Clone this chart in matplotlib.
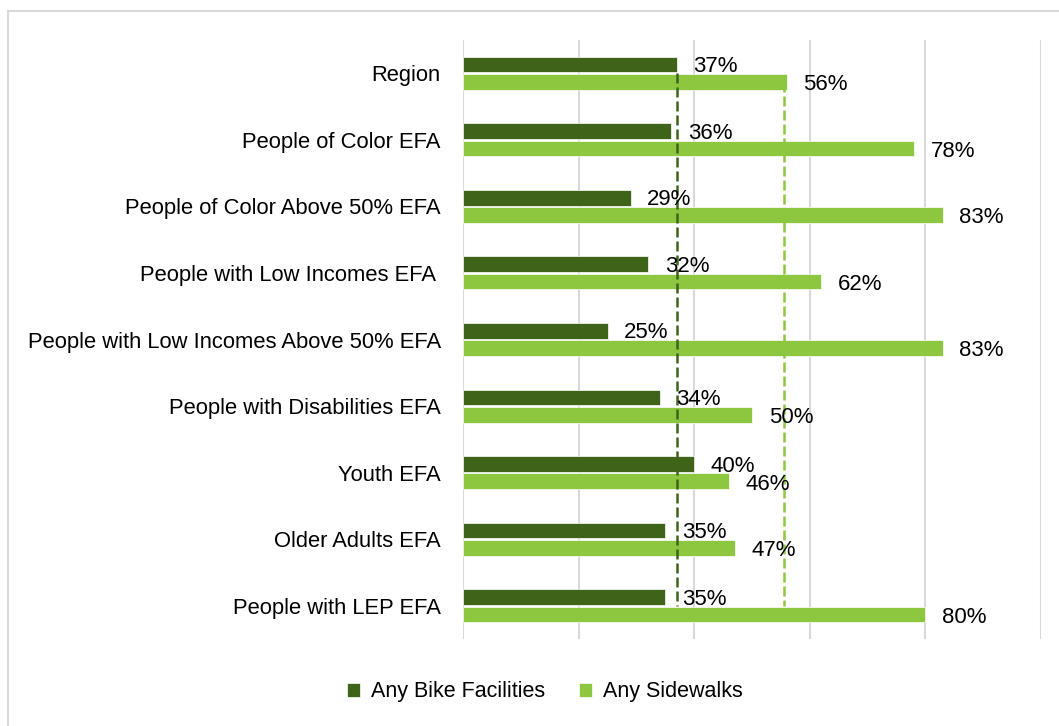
import matplotlib.pyplot as plt
import matplotlib.patches as patches
import numpy as np

plt.rcParams['font.family'] = ['Liberation Sans', 'DejaVu Sans']

categories = ['Region', 'People of Color EFA', 'People of Color Above 50% EFA',
              'People with Low Incomes EFA ', 'People with Low Incomes Above 50% EFA',
              'People with Disabilities EFA', 'Youth EFA', 'Older Adults EFA',
              'People with LEP EFA']
bike = [37, 36, 29, 32, 25, 34, 40, 35, 35]
sidewalks = [56, 78, 83, 62, 83, 50, 46, 47, 80]
region_lines = [37, 55.5]

dark = '#3f6419'
light = '#8dc63f'

fig = plt.figure(figsize=(10.59, 7.26), dpi=100)
ax = fig.add_axes([463 / 1059, 1 - 639 / 726, (1041 - 463) / 1059, (639 - 40) / 726])

# chart border
fig.patches.append(patches.Rectangle((8 / 1059, -0.05), 1.1, 1 - 11 / 726 + 0.05,
                                     transform=fig.transFigure, fill=False,
                                     edgecolor='#d9d9d9', linewidth=1.5, zorder=0))

y = np.arange(len(categories))
h = 0.235
off = 0.13
ax.barh(y - off, bike, height=h, color=dark, edgecolor='white', linewidth=0.5,
        label='Any Bike Facilities', zorder=2)
ax.barh(y + off, sidewalks, height=h, color=light, edgecolor='white', linewidth=0.5,
        label='Any Sidewalks', zorder=2)

# region reference lines
ax.vlines(region_lines[0], y[0], y[-1], colors=dark, linestyles=(0, (4, 1.6)),
          linewidth=1.8, zorder=3)
ax.vlines(region_lines[1], y[0] + off, y[-1], colors=light, linestyles=(0, (4, 1.6)),
          linewidth=1.8, zorder=3)

for i in range(len(categories)):
    ax.annotate(f'{bike[i]}%', (bike[i], y[i] - off), xytext=(12, -1.5),
                textcoords='offset points', ha='left', va='center', fontsize=16,
                zorder=4)
    ax.annotate(f'{sidewalks[i]}%', (sidewalks[i], y[i] + off), xytext=(12, -2),
                textcoords='offset points', ha='left', va='center', fontsize=16,
                zorder=4)

ax.set_xlim(0, 100)
ax.set_ylim(len(categories) - 0.5, -0.5)
ax.set_xticks([0, 20, 40, 60, 80, 100])
ax.set_xticklabels([])
ax.set_yticks(y)
ax.set_yticklabels(categories, fontsize=15.8)
ax.tick_params(axis='both', length=0)
ax.tick_params(axis='y', pad=16)
ax.grid(axis='x', color='#d9d9d9', linewidth=1.5, zorder=0)
ax.set_axisbelow(True)
for s in ax.spines.values():
    s.set_visible(False)

fig.legend(loc='center', bbox_to_anchor=(545 / 1059, 1 - 692 / 726), ncol=2,
           frameon=False, fontsize=15.5, handlelength=0.6, handleheight=0.6,
           handletextpad=0.5, columnspacing=1.6)

plt.savefig('out.png', dpi=100)
